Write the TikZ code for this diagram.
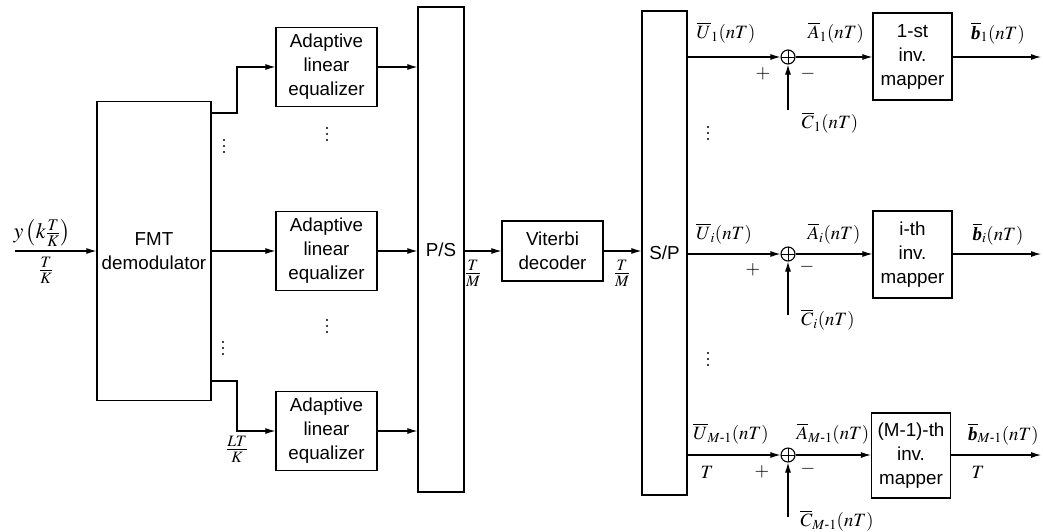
\documentclass[tikz,border=0pt]{standalone}
\usepackage{amsmath}
\usepackage{mathptmx}
\usepackage[no-math]{fontspec}
\setmainfont{Liberation Sans}
\newfontfamily\tmsfam{Liberation Serif}
\newcommand\bvecb{\text{\tmsfam\bfseries\itshape b}}
\usetikzlibrary{arrows.meta,calc}
\begin{document}
\begin{tikzpicture}[x=1pt,y=-1pt,
  every node/.style={font=\fontsize{18.8}{24}\selectfont},
  blk/.style={draw,line width=1.3pt,align=center,inner sep=0pt},
  arr/.style={line width=1.1pt,-{Latex[length=10pt,width=6pt]}},
  sumnode/.style={circle,draw,line width=1.1pt,minimum size=14pt,inner sep=0pt,
    path picture={\draw[line width=1pt] (path picture bounding box.north)--(path picture bounding box.south)
      (path picture bounding box.west)--(path picture bounding box.east);}},
  lbl/.style={inner sep=0pt},
  frc/.style={inner sep=0pt,font=\fontsize{21.5}{26}\selectfont}
]
\useasboundingbox (0,0) rectangle (1043,531);

% blocks
\node[blk,minimum width=114pt,minimum height=299pt] (fmt) at (154,251) {FMT\\demodulator};
\node[blk,minimum width=101pt,minimum height=79pt] (eq1) at (326.5,67) {Adaptive\\linear\\equalizer};
\node[blk,minimum width=101pt,minimum height=79pt] (eq2) at (326.5,251) {Adaptive\\linear\\equalizer};
\node[blk,minimum width=101pt,minimum height=79pt] (eq3) at (326.5,431) {Adaptive\\linear\\equalizer};
\node[blk,minimum width=46pt,minimum height=485pt] (ps) at (441,249.5) {P/S};
\node[blk,minimum width=101pt,minimum height=60pt] (vit) at (552.5,251) {Viterbi\\decoder};
\node[blk,minimum width=45pt,minimum height=484pt] (sp) at (664.5,253) {S/P};

\node[sumnode] (s1) at (788,57) {};
\node[sumnode] (si) at (788,254) {};
\node[sumnode] (sM) at (788,455) {};
\node[blk,minimum width=79pt,minimum height=87pt] (m1) at (912.5,56.5) {1-st\\inv.\\mapper};
\node[blk,minimum width=79pt,minimum height=87pt] (mi) at (912.5,254.5) {i-th\\inv.\\mapper};
\node[blk,minimum width=79pt,minimum height=85pt] (mM) at (911,455.5) {(M-1)-th\\inv.\\mapper};

% connectors left part
\coordinate (in) at (15,251);
\draw[arr] (in) -- (fmt.west);
\coordinate (f1) at (211,113);
\coordinate (f3) at (211,381);
\draw[arr] (f1) -- ++(26,0) |- (eq1.west);
\draw[arr] (fmt.east) -- (eq2.west);
\draw[arr] (f3) -- ++(26,0) |- (eq3.west);
\draw[arr] (eq1.east) -- (eq1.east -| ps.west);
\draw[arr] (eq2.east) -- (eq2.east -| ps.west);
\draw[arr] (eq3.east) -- (eq3.east -| ps.west);
\draw[arr] (ps.east |- vit.west) -- (vit.west);
\draw[arr] (vit.east) -- (vit.east -| sp.west);

% right part
\coordinate (o1) at (1041,57);
\coordinate (oi) at (1041,254);
\coordinate (oM) at (1041,455);
\coordinate (c1) at (788,110);
\coordinate (ci) at (788,315);
\coordinate (cM) at (788,517);
\foreach \r in {1,i,M}{
  \draw[arr] (sp.east |- s\r.west) -- (s\r.west);
  \draw[arr] (s\r.east) -- (s\r.east -| m\r.west);
  \draw[arr] (m\r.east |- o\r) -- (o\r);
  \draw[arr] (c\r) -- (s\r.south);
}

% labels left
\node[lbl,font=\fontsize{22}{26}\selectfont] (yin) at (42,233) {$y\left(k\frac{T}{K}\right)$};
\node[frc] (tk) at (46,270) {$\frac{T}{K}$};
\node[frc] (ltk) at (237,449) {$\frac{LT}{K}$};
\node[frc] (tm1) at (473,273) {$\frac{T}{M}$};
\node[frc] (tm2) at (622,273) {$\frac{T}{M}$};

% labels row 1
\node[lbl] (u1) at (726,33) {$\overline{U}_1(nT)$};
\node[lbl] (a1) at (836,33) {$\overline{A}_1(nT)$};
\node[lbl] (b1) at (998,33) {$\overline{\bvecb}_1(nT)$};
\node[lbl] (p1) at (763,74) {$+$};
\node[lbl] (n1) at (808,74) {$-$};
\node[lbl] (cc1) at (830,123) {$\overline{C}_1(nT)$};
% labels row i
\node[lbl] (ui) at (724,234) {$\overline{U}_i(nT)$};
\node[lbl] (ai) at (834,234) {$\overline{A}_i(nT)$};
\node[lbl] (bi) at (998,234) {$\overline{\bvecb}_i(nT)$};
\node[lbl] (pi) at (753,270) {$+$};
\node[lbl] (ni) at (807,267) {$-$};
\node[lbl] (cci) at (828,320) {$\overline{C}_i(nT)$};
% labels row M-1
\node[lbl] (uM) at (731,434) {$\overline{U}_{M\text{-}1}(nT)$};
\node[lbl] (aM) at (833,434) {$\overline{A}_{M\text{-}1}(nT)$};
\node[lbl,anchor=west] (bM) at (968,434) {$\overline{\bvecb}_{M\text{-}1}(nT)$};
\node[lbl] (tM1) at (707,472) {$T$};
\node[lbl] (tM2) at (978,472) {$T$};
\node[lbl] (pM) at (762,472) {$+$};
\node[lbl] (nM) at (808,469) {$-$};
\node[lbl] (ccM) at (837,521) {$\overline{C}_{M\text{-}1}(nT)$};

% vertical dots
\foreach \x/\y in {224/140, 327/128, 327/320, 223/342, 708/127, 708/353}
  \foreach \k in {0,6,12}
    \fill (\x,\y+\k) circle (1.1pt);
\end{tikzpicture}
\end{document}
